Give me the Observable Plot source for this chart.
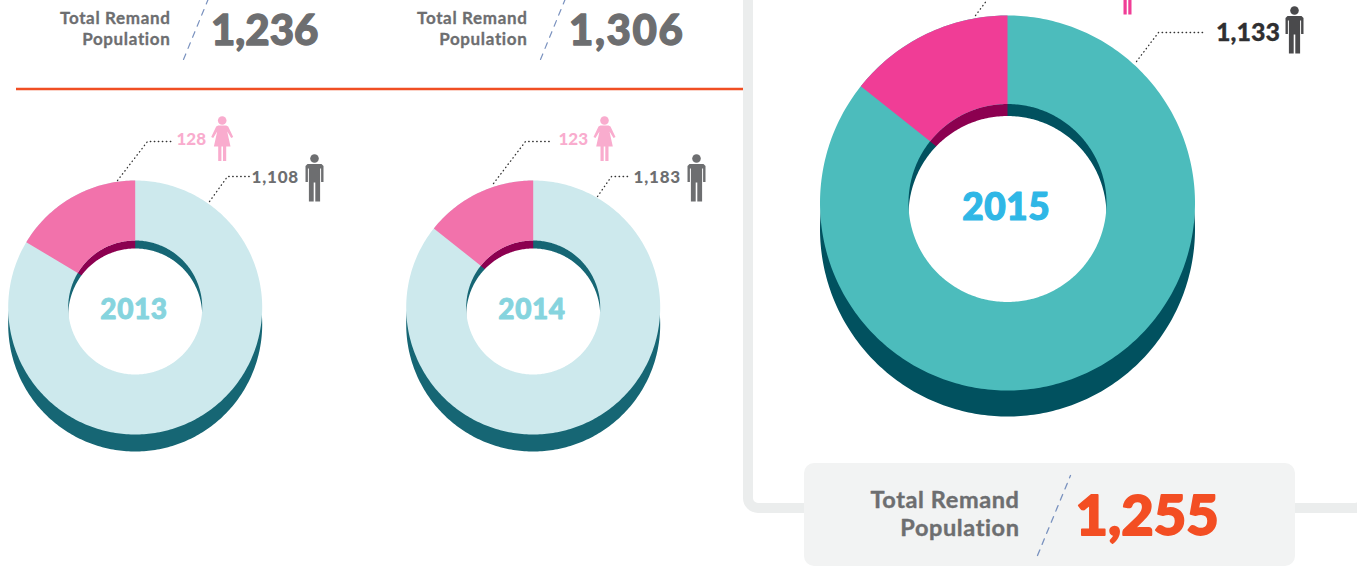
<!DOCTYPE html>
<html>
<head>
<meta charset="utf-8">
<script src="https://cdn.jsdelivr.net/npm/d3@7"></script>
<script src="https://cdn.jsdelivr.net/npm/@observablehq/plot@0.6"></script>
<style>html,body{margin:0;padding:0;background:#fff;overflow:hidden}</style>
</head>
<body>
<div id="chart"></div>
<script>
// ---- values ----
const years = ["2013", "2014", "2015"];
const totals = ["1,236", "1,306", "1,255"];
const femaleCounts = ["128", "123", ""];
const maleCounts = ["1,108", "1,183", "1,133"];
// angular share of each ring given to the female slice, as drawn
const femaleShare = [0.164, 0.143, 0.143];

// ---- layout and styling, separate from the values ----
const donuts = [
  {cx:134.7, cy:307, R:127, r:67, drop:17, wall:8, ring:"#cde9ed", slice:"#f272ab", dark:"#166674", yearFill:"#86d4de", yearSize:28, yearDy:2.5, yearW:0.9},
  {cx:532.7, cy:307, R:127, r:67, drop:17, wall:8, ring:"#cde9ed", slice:"#f272ab", dark:"#166674", yearFill:"#86d4de", yearSize:28, yearDy:2.5, yearW:0.9},
  {cx:1007, cy:202.5, R:187.5, r:99, drop:26, wall:12, ring:"#4cbcbc", slice:"#f03d96", dark:"#01515f", yearFill:"#2fb7e6", yearSize:37, yearDy:5.5, yearW:1.2}
];
const wallPink = "#8c0050";
const gray = "#6d6e70";
const sans = "Lato";

const sector = (cx, cy, r0, r1, a0, a1) => {
  const pts = [];
  const n = Math.max(2, Math.ceil(a1 - a0));
  const at = (a, r) => {
    const t = a * Math.PI / 180;
    return {x: cx + r * Math.sin(t), y: cy - r * Math.cos(t)};
  };
  for (let i = 0; i <= n; i++) pts.push(at(a0 + (a1 - a0) * i / n, r1));
  for (let i = n; i >= 0; i--) pts.push(at(a0 + (a1 - a0) * i / n, r0));
  return pts;
};
const poly = (pts, fill) => Plot.line(pts, {x:"x", y:"y", fill, stroke:"none"});
const txt = (label, x, y, o = {}) => {
  const {spacing, weightUp = 0, ...rest} = o;
  return Plot.text([label], {
    x:() => x, y:() => y, text:d => d, fontFamily:sans, fontVariant:"normal", lineAnchor:"middle",
    stroke: weightUp ? rest.fill : "none", strokeWidth: weightUp, paintOrder:"fill",
    ...rest,
    render(i, s, v, d, c, next) {
      const g = next(i, s, v, d, c);
      if (spacing) g.style.letterSpacing = spacing + "px";
      return g;
    }
  });
};
const malePts = [[-7,5.5],[7,5.5],[9,7.5],[9,23.5],[6.6,23.5],[6.6,10],[5.6,10],[5.6,43],[0.8,43],[0.8,24],[-0.8,24],[-0.8,43],[-5.6,43],[-5.6,10],[-6.6,10],[-6.6,23.5],[-9,23.5],[-9,7.5]];
const femalePts = [[-4,5],[4,5],[6,6],[11,16.5],[9,17.5],[5,11],[8.3,26],[4,26],[4,40.5],[0.8,40.5],[0.8,26],[-0.8,26],[-0.8,40.5],[-4,40.5],[-4,26],[-8.3,26],[-5,11],[-9,17.5],[-11,16.5],[-6,6]];
const icon = (shape, x, y, fill) => [
  poly(shape.map(([a, b]) => ({x:x + a, y:y + b})), fill),
  Plot.dot([0], {x:() => x, y:() => y, r:4.3, fill, stroke:"none"})
];
const leader = (pts, stroke) => Plot.line(pts.map(([x, y]) => ({x, y})), {x:"x", y:"y", stroke, strokeWidth:1.3, strokeDasharray:"0.5 3.5", strokeLinecap:"round"});

const donutMarks = (d, k) => {
  const a = femaleShare[k] * 360;
  return [
    poly(sector(d.cx, d.cy + d.drop, 0, d.R, 0, 360), d.dark),
    poly(sector(d.cx, d.cy, 0, d.r + 1, 360 - a, 360), wallPink),
    poly(sector(d.cx, d.cy + d.wall, 0, d.r, 0, 360), "#fff"),
    poly(sector(d.cx, d.cy, d.r, d.R, 0, 360), d.ring),
    poly(sector(d.cx, d.cy, d.r, d.R, 360 - a, 360), d.slice),
    txt(years[k], d.cx - 1.2, d.cy + d.yearDy, {fontSize:d.yearSize, fontWeight:900, fill:d.yearFill, textAnchor:"middle", spacing:0.6, weightUp:d.yearW})
  ];
};
const headline = (k, right, numX, y1, y2, size, labelSpacing, numSize, numFill, numY, labelUp, numUp, numSpacing) => [
  txt("Total Remand", right, y1, {fontSize:size, fontWeight:700, fill:gray, textAnchor:"end", spacing:labelSpacing, weightUp:labelUp}),
  txt("Population", right, y2, {fontSize:size, fontWeight:700, fill:gray, textAnchor:"end", spacing:labelSpacing, weightUp:labelUp}),
  txt(totals[k], numX, numY, {fontSize:numSize, fontWeight:900, fill:numFill, textAnchor:"start", weightUp:numUp, spacing:numSpacing})
];

const chart = Plot.plot({
  width:1357, height:567, margin:0,
  x:{domain:[0,1357], range:[0,1357], axis:null},
  y:{domain:[0,567], range:[0,567], axis:null},
  style:{background:"#fff"},
  marks:[
    Plot.rect([0], {x1:() => 748, x2:() => 1365, y1:() => -40, y2:() => 508, fill:"none", stroke:"#ebeded", strokeWidth:10, rx:10}),
    Plot.ruleY([0], {y:() => 88.5, x1:16, x2:743, stroke:"#f04e23", strokeWidth:2.5}),
    Plot.rect([0], {x1:() => 804, x2:() => 1295, y1:() => 463, y2:() => 566, fill:"#f2f3f3", rx:10}),

    donuts.map(donutMarks),

    headline(0, 170, 210.5, 18, 39, 17, 0.65, 42, gray, 31.5, 0.3, 1.3, 0),
    headline(1, 527, 568.5, 18, 39, 17, 0.65, 42, gray, 31.5, 0.3, 1.3, 1.6),
    headline(2, 1019, 1075, 500, 528, 23.5, 0.6, 56, "#f34e23", 516.5, 0.4, 1.8, 0),

    Plot.line([{x:183,y:59},{x:208,y:-2}], {x:"x", y:"y", stroke:"#7a92bf", strokeWidth:1.2, strokeDasharray:"6 6"}),
    Plot.line([{x:540,y:59},{x:565,y:-2}], {x:"x", y:"y", stroke:"#7a92bf", strokeWidth:1.2, strokeDasharray:"6 6"}),
    Plot.line([{x:1037,y:555},{x:1070,y:475}], {x:"x", y:"y", stroke:"#7a92bf", strokeWidth:1.3, strokeDasharray:"6 6"}),

    leader([[117,180],[147,141],[172,141]], "#333"),
    leader([[209,201],[227,176],[249,176]], "#333"),
    leader([[493,183],[525,141],[550,141]], "#333"),
    leader([[597,196],[611,176],[628,176]], "#333"),
    leader([[975,15],[987,-1]], "#333"),
    leader([[1136,61],[1158,32],[1205,32]], "#333"),

    txt(femaleCounts[0], 205.5, 139, {fontSize:17, fontWeight:900, fill:"#f9acce", textAnchor:"end"}),
    txt(maleCounts[0], 298.5, 177, {fontSize:17, fontWeight:900, fill:gray, textAnchor:"end", spacing:0.8}),
    txt(femaleCounts[1], 587.5, 139, {fontSize:17, fontWeight:900, fill:"#f9acce", textAnchor:"end"}),
    txt(maleCounts[1], 680.5, 177, {fontSize:17, fontWeight:900, fill:gray, textAnchor:"end", spacing:0.8}),
    txt(maleCounts[2], 1279.5, 32, {fontSize:25, fontWeight:900, fill:"#2f2f31", textAnchor:"end", weightUp:0.3}),

    icon(femalePts, 221.7, 120, "#f9acce"),
    icon(malePts, 314, 158, gray),
    icon(femalePts, 604, 120, "#f9acce"),
    icon(malePts, 696, 158, gray),
    icon(femalePts, 1127, -26.5, "#f03d96"),
    icon(malePts, 1294, 10, "#4a4a4c")
  ]
});
document.getElementById("chart").appendChild(chart);
</script>
</body>
</html>
